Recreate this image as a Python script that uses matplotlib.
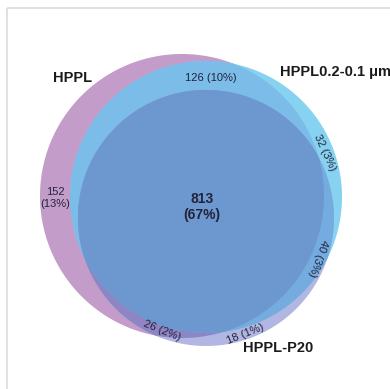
import numpy as np
import matplotlib
matplotlib.use("Agg")
import matplotlib.pyplot as plt
from matplotlib.patches import Polygon, Rectangle

plt.rcParams['font.family'] = ['Liberation Sans', 'DejaVu Sans']

# Set names and region counts
set_names = ["HPPL", "HPPL0.2-0.1 μm", "HPPL-P20"]
region_keys = ["A", "AB", "ABC", "BC", "B", "AC", "C"]
region_counts = [152, 126, 813, 40, 32, 26, 18]
region_pcts = [13, 10, 67, 3, 3, 2, 1]

# Circle geometry (pixel space of the canvas)
circles = {
    "A": ((182, 196), 142),
    "B": ((206, 197), 136),
    "C": ((206, 218), 128),
}
fills = {
    "A": "#c49cc9",
    "B": "#86d2f0",
    "C": "#b2b6e2",
    "AB": "#7bbde8",
    "AC": "#8d85c4",
    "BC": "#74ace0",
    "ABC": "#6c98cf",
}


def circle_poly(center, r, n=720):
    t = np.linspace(0, 2 * np.pi, n, endpoint=False)
    return np.column_stack([center[0] + r * np.cos(t), center[1] + r * np.sin(t)])


def clip(subject, clipper):
    """Sutherland-Hodgman clipping of a polygon by a convex polygon."""
    def inside(p, a, b):
        return (b[0] - a[0]) * (p[1] - a[1]) - (b[1] - a[1]) * (p[0] - a[0]) >= 0

    def inter(p1, p2, a, b):
        d1 = p2 - p1
        d2 = b - a
        den = d1[0] * d2[1] - d1[1] * d2[0]
        if abs(den) < 1e-12:
            return p2
        t = ((a[0] - p1[0]) * d2[1] - (a[1] - p1[1]) * d2[0]) / den
        return p1 + t * d1

    out = list(subject)
    m = len(clipper)
    for i in range(m):
        a, b = clipper[i], clipper[(i + 1) % m]
        inp = out
        out = []
        if not inp:
            break
        s = inp[-1]
        for e in inp:
            if inside(e, a, b):
                if not inside(s, a, b):
                    out.append(inter(s, e, a, b))
                out.append(e)
            elif inside(s, a, b):
                out.append(inter(s, e, a, b))
            s = e
    return np.array(out)


polys = {k: circle_poly(*v) for k, v in circles.items()}

fig = plt.figure(figsize=(3.9, 3.89), dpi=100)
ax = fig.add_axes([0, 0, 1, 1])
ax.set_xlim(0, 390)
ax.set_ylim(389, 0)
ax.axis("off")

# Outer frame
ax.add_patch(Rectangle((7, 8), 400, 400, fill=False, ec="#dcdcdc", lw=1.2))

layers = [
    ("A", polys["A"]),
    ("B", polys["B"]),
    ("AB", clip(polys["B"], polys["A"])),
    ("C", polys["C"]),
    ("AC", clip(polys["C"], polys["A"])),
    ("BC", clip(polys["C"], polys["B"])),
    ("ABC", clip(clip(polys["C"], polys["A"]), polys["B"])),
]
for key, poly in layers:
    ax.add_patch(Polygon(poly, closed=True, fc=fills[key], ec="none", lw=0))

# Region labels: (x, y, rotation, two-line, bold)
label_pos = {
    "A": (55, 198, 0, True, False),
    "AB": (211, 78, 0, False, False),
    "ABC": (202, 207, 0, True, True),
    "BC": (318, 258, -110, False, False),
    "B": (325, 153, -65, False, False),
    "AC": (162, 331, -22, False, False),
    "C": (245, 334, 22, False, False),
}
txt_color = "#23233a"
for key, cnt, pct in zip(region_keys, region_counts, region_pcts):
    x, y, rot, two, bold = label_pos[key]
    s = f"{cnt}\n({pct}%)" if two else f"{cnt} ({pct}%)"
    ax.text(x, y, s, ha="center", va="center", rotation=rot,
            rotation_mode="anchor", fontsize=10 if bold else 8,
            fontweight="bold" if bold else "normal", color=txt_color,
            linespacing=1.15)

# Set names
ax.text(73, 78, set_names[0], ha="center", va="center", fontsize=10.5,
        fontweight="bold", color="#1a1a1a")
ax.text(280, 72, set_names[1], ha="left", va="center", fontsize=10.5,
        fontweight="bold", color="#1a1a1a")
ax.text(278, 348, set_names[2], ha="center", va="center", fontsize=10.5,
        fontweight="bold", color="#1a1a1a")

fig.savefig("out.png", dpi=100)
